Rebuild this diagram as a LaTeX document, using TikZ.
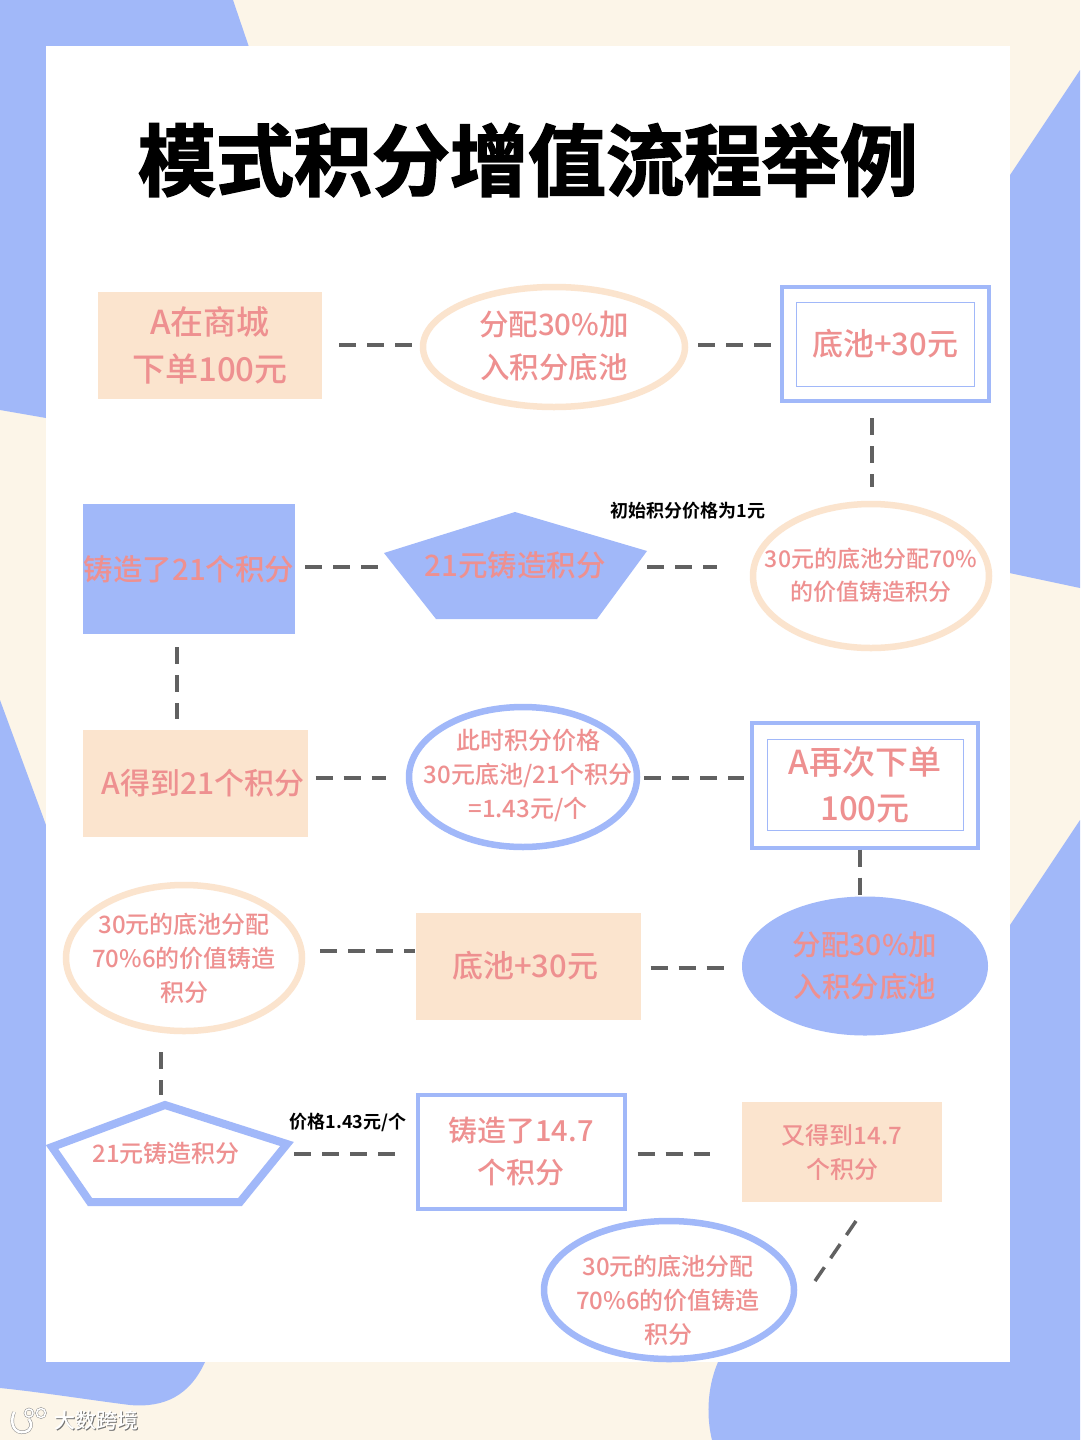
\documentclass[tikz,border=0pt]{standalone}
\usepackage{fontspec}
\setmainfont{Noto Sans CJK SC Medium}
\newfontfamily\titlefont[FakeBold=2]{Noto Sans CJK SC Bold}
\newfontfamily\notefont{Noto Sans CJK SC Bold}
\usetikzlibrary{shapes.geometric}
\definecolor{peri}{HTML}{A1B8F9}
\definecolor{cream}{HTML}{FCF5E8}
\definecolor{peach}{HTML}{FBE4CE}
\definecolor{salmon}{HTML}{EE9090}
\tikzset{
  flat/.style={fill=peach,inner sep=0pt,align=center,text=salmon},
  ringbox/.style={draw=peri,line width=4pt,fill=white,align=center,text=salmon,inner sep=0pt},
  innerbox/.style={draw=peri,line width=1pt},
  oval/.style={ellipse,draw=#1,line width=6.5pt,fill=white,inner sep=0pt},
  ovaltext/.style={align=center,text=salmon},
  link/.style 2 args={dash pattern=on 17pt off 11pt,line width=3.5pt,draw=black!62,shorten <=#1pt,shorten >=#2pt},
  note/.style={font=\notefont\fontsize{18}{20}\selectfont,text=black},
  lab/.style 2 args={font=\fontsize{#1}{#2}\selectfont}
}
\begin{document}
\begin{tikzpicture}[x=1pt,y=-1pt]
\useasboundingbox (0,0) rectangle (1080,1440);
% background
\fill[cream] (0,0) rectangle (1080,1440);
\fill[peri] (0,0) -- (233,0) -- (250,50) -- (46,60) -- (46,418) -- (0,410) -- cycle;
\fill[peri] (1080,70) -- (1000,190) -- (1000,571) -- (1080,588) -- cycle;
\fill[peri] (0,700) -- (46,825) -- (46,1350) -- (205,1350) -- (205,1362) .. controls (190,1395) and (165,1408) .. (130,1405) .. controls (90,1400) and (40,1392) .. (0,1388) -- cycle;
\fill[peri] (1080,820) -- (1000,940) -- (1000,1350) -- (718,1350) -- (718,1362) .. controls (706,1390) and (707,1420) .. (712,1440) -- (1080,1440) -- cycle;
\fill[white] (46,46) rectangle (1010,1362);
% title
\node[font=\titlefont\fontsize{78}{80}\selectfont,text=black] (title) at (528,160) {模式积分增值流程举例};
% row 1
\node[flat,minimum width=224pt,minimum height=107pt,lab={33}{47}] (order) at (210,345) {A在商城\\下单100元};
\node[oval=peach,minimum width=262pt,minimum height=120pt] (share) at (554,347) {};
\node[ovaltext,lab={29.5}{43}] (sharet) at (554,346) {分配30\%加\\入积分底池};
\node[ringbox,minimum width=207pt,minimum height=114pt] (pool) at (885,344) {};
\node[innerbox,minimum width=178pt,minimum height=84pt,text=salmon,lab={31}{40}] (poolin) at (885,344) {底池+30元};
% row 2
\node[oval=peach,minimum width=236pt,minimum height=144pt] (mint) at (871,576) {};
\node[ovaltext,lab={23}{33}] (mintt) at (871,575) {30元的底池分配70\%\\的价值铸造积分};
\draw[fill=peri,draw=none] (515,512) coordinate (pentaN) -- (647,551) coordinate (pentaE) -- (597,619) -- (436,619) -- (384,553) coordinate (pentaW) -- cycle;
\node[lab={29.5}{40},text=salmon] (pentat) at (515,565) {21元铸造积分};
\node[note] (initial) at (688,511) {初始积分价格为1元};
\node[fill=peri,minimum width=212pt,minimum height=130pt,inner sep=0pt,text=salmon,lab={29.5}{40}] (minted) at (189,569) {铸造了21个积分};
% row 3
\node[flat,minimum width=225pt,minimum height=107pt,lab={30}{40}] (got) at (195,783) {\hspace{16pt}A得到21个积分};
\node[oval=peri,minimum width=228pt,minimum height=140pt] (price) at (523,777) {};
\node[ovaltext,lab={24}{34}] (pricet) at (528,775) {此时积分价格\\30元底池/21个积分\\=1.43元/个};
\node[ringbox,minimum width=226pt,minimum height=125pt] (again) at (865,785) {};
\node[innerbox,minimum width=196pt,minimum height=91pt,text=salmon,align=center,lab={33}{46}] (againin) at (865,785) {A再次下单\\100元};
% row 4
\node[oval=peach,minimum width=236pt,minimum height=146pt] (mint2) at (184,958) {};
\node[ovaltext,lab={24}{34}] (mint2t) at (184,958) {30元的底池分配\\70\%6的价值铸造\\积分};
\node[flat,minimum width=225pt,minimum height=107pt] (pool2) at (528,966) {};
\node[ovaltext,lab={31}{40}] (pool2t) at (525,966) {底池+30元};
\node[ellipse,fill=peri,minimum width=246pt,minimum height=139pt,inner sep=0pt] (share2) at (865,966) {};
\node[ovaltext,lab={28.5}{42}] (share2t) at (865,966) {分配30\%加\\入积分底池};
% row 5
\draw[peri,line width=8pt,fill=white,line join=miter] (165,1105) coordinate (starN) -- (287,1144) coordinate (starE) -- (240,1202) -- (90,1202) -- (52,1147) coordinate (starW) -- cycle;
\node[lab={24}{34},text=salmon] (pent2) at (166,1153) {21元铸造积分};
\node[note] (pricenote) at (348,1122) {价格1.43元/个};
\node[ringbox,minimum width=207pt,minimum height=114pt,lab={29}{42}] (minted2) at (521,1152) {铸造了14.7\\个积分};
\node[flat,minimum width=200pt,minimum height=100pt,lab={24}{34}] (got2) at (842,1152) {又得到14.7\\个积分};
\node[oval=peri,minimum width=250pt,minimum height=138pt] (mint3) at (669,1290) {};
\node[ovaltext,lab={24}{34}] (mint3t) at (668,1300) {30元的底池分配\\70\%6的价值铸造\\积分};
\coordinate (turnA) at (856,1221);
\coordinate (turnB) at (815,1281);
% links
\draw[link={17}{8}] (order.east |- 0,345) -- (share.west |- 0,345);
\draw[link={10}{7}] (share.east |- 0,345) -- (pool.west |- 0,345);
\draw[link={15}{14}] (pool.south -| 872,0) -- (mint.north -| 872,0);
\draw[link={0}{33}] (pentaE |- 0,567) -- (mint.west |- 0,567);
\draw[link={10}{3}] (minted.east |- 0,567) -- (pentaW |- 0,567);
\draw[link={13}{10}] (minted.south -| 177,0) -- (got.north -| 177,0);
\draw[link={8}{20}] (got.east |- 0,778) -- (price.west |- 0,778);
\draw[link={4}{6}] (price.east |- 0,778) -- (again.west |- 0,778);
\draw[link={0}{0}] (again.south -| 860,0) -- (share2.north -| 860,0);
\draw[link={10}{18}] (pool2.east |- 0,968) -- (share2.west |- 0,968);
\draw[link={15}{0}] (mint2.east |- 0,951) -- (pool2.west |- 0,951);
\draw[link={18}{10}] (mint2.south -| 161,0) -- (starN -| 161,0);
\draw[link={7}{20}] (starE |- 0,1154) -- (minted2.west |- 0,1154);
\draw[link={11}{32}] (minted2.east |- 0,1154) -- (got2.west |- 0,1154);
\draw[link={0}{0}] (turnA) -- (turnB);
% watermark
\node[font=\fontsize{21}{22}\selectfont,text=black!55,xshift=1pt,yshift=-1pt] (markbg) at (96,1420) {大数跨境};
\node[font=\fontsize{21}{22}\selectfont,text=white] (mark) at (96,1420) {大数跨境};
\draw[black!45,line width=3.5pt] (14,1412) .. controls (9,1425) and (15,1434) .. (25,1432) .. controls (31,1431) and (33,1424) .. (29,1419);
\draw[black!45,line width=2.5pt] (29,1413) circle (4pt) (41,1413) circle (4.5pt);
\draw[white,line width=2.5pt] (14,1412) .. controls (9,1425) and (15,1434) .. (25,1432) .. controls (31,1431) and (33,1424) .. (29,1419);
\draw[white,line width=1.5pt] (29,1413) circle (4pt) (41,1413) circle (4.5pt);
\end{tikzpicture}
\end{document}
